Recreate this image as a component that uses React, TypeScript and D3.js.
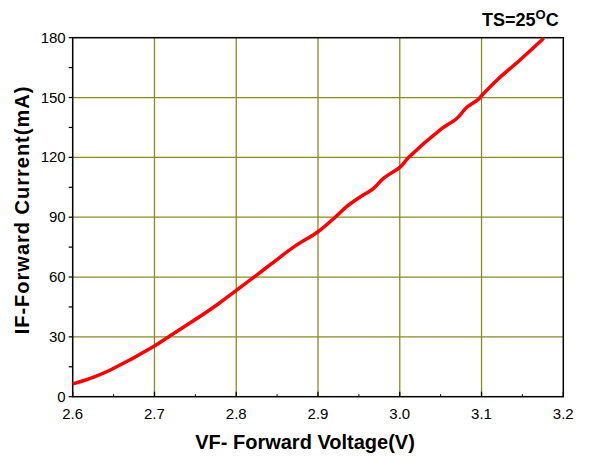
import React, { useEffect, useRef } from 'react';
import * as d3 from 'd3';

// forward voltage (V) vs forward current (mA)
const voltage = [2.6, 2.625, 2.646, 2.7, 2.714, 2.756, 2.78, 2.8, 2.825, 2.842, 2.87, 2.9, 2.921, 2.935, 2.951, 2.968, 2.98, 3.0, 3.011, 3.049, 3.07, 3.082, 3.096, 3.1, 3.119, 3.147, 3.176];
const current = [6.4, 9.7, 13.4, 25.4, 29.2, 40.3, 47.1, 53.3, 61, 66.3, 75, 82.7, 90, 95.3, 100, 104.5, 109.5, 115, 120, 133.7, 139.6, 145.1, 149.1, 150.9, 158.8, 168.8, 179.7];

const xTicks = [2.6, 2.7, 2.8, 2.9, 3.0, 3.1, 3.2];
const yTicks = [0, 30, 60, 90, 120, 150, 180];

const W = 589;
const H = 463;

const App: React.FC = () => {
  const ref = useRef<SVGSVGElement | null>(null);

  useEffect(() => {
    if (!ref.current) return;
    const svg = d3.select(ref.current);
    svg.selectAll('*').remove();

    const margin = { top: 37.7, right: 25.7, bottom: 66.3, left: 72.7 };
    const innerW = W - margin.left - margin.right;
    const innerH = H - margin.top - margin.bottom;

    const x = d3.scaleLinear().domain([2.6, 3.2]).range([0, innerW]);
    const y = d3.scaleLinear().domain([0, 180]).range([innerH, 0]);

    const g = svg.append('g').attr('transform', `translate(${margin.left},${margin.top})`);

    // grid
    g.append('g')
      .selectAll('line')
      .data(xTicks.slice(1, -1))
      .enter()
      .append('line')
      .attr('x1', d => x(d))
      .attr('x2', d => x(d))
      .attr('y1', 0)
      .attr('y2', innerH)
      .attr('stroke', '#8a8a25')
      .attr('stroke-width', 1.3);

    g.append('g')
      .selectAll('line')
      .data(yTicks.slice(1, -1))
      .enter()
      .append('line')
      .attr('x1', 0)
      .attr('x2', innerW)
      .attr('y1', d => y(d))
      .attr('y2', d => y(d))
      .attr('stroke', '#8a8a25')
      .attr('stroke-width', 1.3);

    // minor ticks
    const xMinor = d3.range(2.65, 3.2, 0.1);
    g.append('g')
      .selectAll('line')
      .data(xMinor)
      .enter()
      .append('line')
      .attr('x1', d => x(d))
      .attr('x2', d => x(d))
      .attr('y1', innerH)
      .attr('y2', innerH - 2.5)
      .attr('stroke', '#000');

    // major x ticks (inward)
    g.append('g')
      .selectAll('line')
      .data(xTicks)
      .enter()
      .append('line')
      .attr('x1', d => x(d))
      .attr('x2', d => x(d))
      .attr('y1', innerH)
      .attr('y2', innerH - 5)
      .attr('stroke', '#000')
      .attr('stroke-width', 1.3);

    const yMinor = d3.range(15, 180, 30);
    g.append('g')
      .selectAll('line')
      .data(yMinor.concat(yTicks))
      .enter()
      .append('line')
      .attr('x1', -4)
      .attr('x2', 0)
      .attr('y1', d => y(d))
      .attr('y2', d => y(d))
      .attr('stroke', '#000')
      .attr('stroke-width', 1.2);

    // frame
    g.append('rect')
      .attr('x', 0)
      .attr('y', 0)
      .attr('width', innerW)
      .attr('height', innerH)
      .attr('fill', 'none')
      .attr('stroke', '#000')
      .attr('stroke-width', 1.5);

    // tick labels
    g.append('g')
      .selectAll('text')
      .data(xTicks)
      .enter()
      .append('text')
      .attr('x', d => x(d))
      .attr('y', innerH + 22)
      .attr('text-anchor', 'middle')
      .attr('font-family', 'Liberation Sans, Arial, sans-serif')
      .attr('font-size', 15)
      .text(d => d.toFixed(1));

    g.append('g')
      .selectAll('text')
      .data(yTicks)
      .enter()
      .append('text')
      .attr('x', -7)
      .attr('y', d => y(d) + 5)
      .attr('text-anchor', 'end')
      .attr('font-family', 'Liberation Sans, Arial, sans-serif')
      .attr('font-size', 15)
      .text(d => String(d));

    // curve
    const pts = voltage.map((v, i) => [v, current[i]] as [number, number]);
    const line = d3.line<[number, number]>()
      .x(d => x(d[0]))
      .y(d => y(d[1]))
      .curve(d3.curveCatmullRom.alpha(0.5));

    g.append('path')
      .datum(pts)
      .attr('d', line)
      .attr('fill', 'none')
      .attr('stroke', '#ff0000')
      .attr('stroke-width', 3.5)
      .attr('stroke-linejoin', 'round');

    // axis titles
    svg.append('text')
      .attr('x', 305)
      .attr('y', 449)
      .attr('text-anchor', 'middle')
      .attr('font-family', 'Liberation Sans, Arial, sans-serif')
      .attr('font-weight', 'bold')
      .attr('font-size', 20)
      .text('VF- Forward Voltage(V)');

    svg.append('text')
      .attr('transform', 'translate(29,210) rotate(-90)')
      .attr('text-anchor', 'middle')
      .attr('font-family', 'Liberation Sans, Arial, sans-serif')
      .attr('font-weight', 'bold')
      .attr('font-size', 20)
      .attr('letter-spacing', 1)
      .text('IF-Forward Current(mA)');

    const title = svg.append('text')
      .attr('x', 482)
      .attr('y', 26)
      .attr('font-family', 'Liberation Sans, Arial, sans-serif')
      .attr('font-weight', 'bold')
      .attr('font-size', 18);
    title.append('tspan').text('TS=25');
    title.append('tspan').attr('font-size', 13).attr('dy', -7).text('O');
    title.append('tspan').attr('dy', 7).text('C');
  }, []);

  return (
    <svg
      ref={ref}
      width={W}
      height={H}
      style={{ position: 'absolute', left: 0, top: 0, background: '#fff' }}
    />
  );
};

export default App;
